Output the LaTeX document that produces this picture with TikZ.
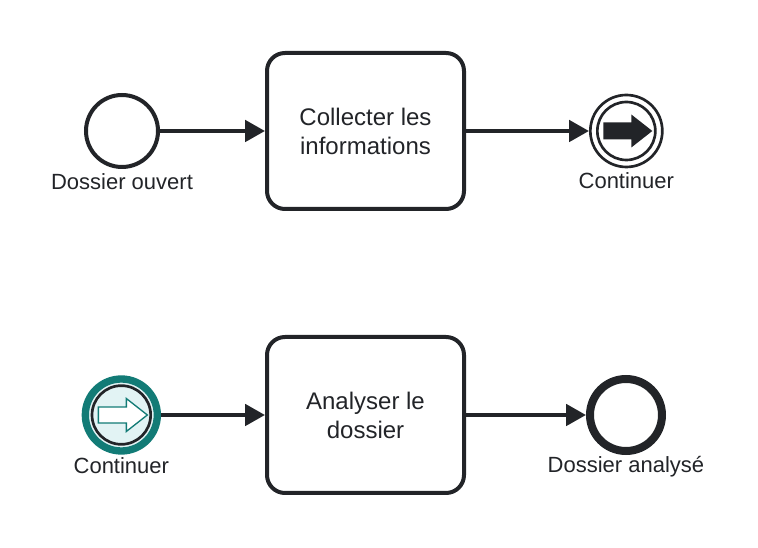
\documentclass[tikz,border=0pt]{standalone}
\usepackage{fontspec}
\setmainfont{Liberation Sans}
\usepackage{tikz}
\usetikzlibrary{arrows.meta,positioning}

\definecolor{ink}{HTML}{222428}
\definecolor{linkteal}{HTML}{127B76}
\definecolor{linkfill}{HTML}{E2F3F4}

\begin{document}
\begin{tikzpicture}[
  x=0.75pt, y=-0.75pt,
  event/.style={circle, draw=ink, line width=3pt, minimum size=54pt, inner sep=0pt},
  task/.style={draw=ink, rounded corners=13.5pt, line width=3pt, minimum width=147.75pt,
               minimum height=117pt, font=\fontsize{18}{21.75}\selectfont, align=center, text=ink},
  flow/.style={-{Triangle[length=15pt,width=16pt]}, line width=3pt, draw=ink},
  caption/.style={font=\fontsize{16.5}{19}\selectfont, text=ink, inner sep=3pt}
]
  \useasboundingbox (0,0) rectangle (758,548);

  % Top: first process
  \node[event] (opened) at (122,131) {};
  \node[task, right=78.75pt of opened] (collect) {Collecter les\\informations};
  \node[event, line width=2pt, right=92.25pt of collect] (throwlink) {};
  \draw[ink, line width=2pt] (throwlink.center) circle[radius=21.75pt];
  \fill[ink] ([shift={(-23,-8.5)}]throwlink.center) -- ++(28,0) -- ++(0,-8) -- ++(21,16.5)
    -- ++(-21,16.5) -- ++(0,-8) -- ++(-28,0) -- cycle;

  % Bottom: second process
  \node[task, below=93pt of collect] (analyse) {Analyser le\\dossier};
  \node[event, draw=linkteal, fill=linkfill, line width=5.5pt, left=78pt of analyse] (catchlink) {};
  \draw[ink, line width=2pt] (catchlink.center) circle[radius=22pt];
  \draw[linkteal, fill=white, line width=1pt, line join=miter]
    ([shift={(-23,-8)}]catchlink.center) -- ++(28,0) -- ++(0,-8.5) -- ++(21,16.5)
    -- ++(-21,16.5) -- ++(0,-8.5) -- ++(-28,0) -- cycle;
  \node[event, line width=6pt, right=90pt of analyse] (analysed) {};

  % Labels
  \node[caption, below=0pt of opened] (openedlabel) {Dossier ouvert};
  \node[caption, below=0pt of throwlink] (throwlabel) {Continuer};
  \node[caption, below=-1pt of catchlink] (catchlabel) {Continuer};
  \node[caption, below=-2pt of analysed] (analysedlabel) {Dossier analysé};

  % Flows
  \draw[flow] (opened) -- (collect);
  \draw[flow] (collect) -- (throwlink);
  \draw[flow] (catchlink) -- (analyse);
  \draw[flow] (analyse) -- (analysed);
\end{tikzpicture}
\end{document}
